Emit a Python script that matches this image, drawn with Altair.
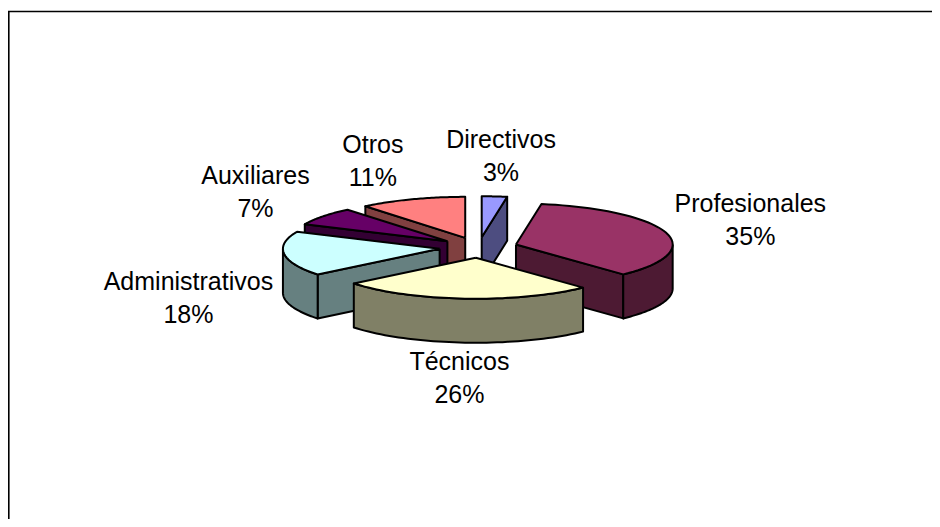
import altair as alt
import pandas as pd

# ---- data ----
categories = ["Directivos", "Profesionales", "Técnicos", "Administrativos", "Auxiliares", "Otros"]
values = [2.6, 35.4, 26.2, 17.6, 7.2, 11.0]
top_colors = ["#9999FF", "#993366", "#FFFFCC", "#CCFFFF", "#660066", "#FF8080"]
side_colors = ["#4D4D80", "#4D1A33", "#808066", "#668080", "#330033", "#804040"]
order = list(range(len(categories)))

df = pd.DataFrame({"cat": categories, "val": values, "top": top_colors,
                   "side": side_colors, "idx": order})
frame_df = pd.DataFrame({"frame": [1]})

# ---- layout / style parameters ----
W, H = 924, 511
CX, CY = 470.5, 239.5      # pie centre (plot coords)
RA, RB = 156.7, 41.0       # ellipse radii of the tilted pie
DEPTH = 44.0               # thickness of the pie
EXPL = 0.25                # explosion (fraction of radius)
N = 48                     # arc segments
FONT = "Liberation Sans"

base = (
    alt.Chart(df)
    .transform_window(cum="sum(val)", sort=[alt.SortField("idx")], frame=[None, 0])
    .transform_joinaggregate(total="sum(val)")
    .transform_calculate(t0="2*PI*(datum.cum - datum.val)/datum.total")
    .transform_calculate(t1="2*PI*datum.cum/datum.total")
    .transform_calculate(tm="(datum.t0 + datum.t1)/2")
    .transform_calculate(ox=f"{CX} + {EXPL * RA}*sin(datum.tm)")
    .transform_calculate(oy=f"{CY} - {EXPL * RB}*cos(datum.tm)")
    .transform_calculate(depth="cos(datum.tm)")
    .transform_window(rank="row_number()", sort=[alt.SortField("depth", order="descending")])
)

pie = (
    base.transform_calculate(parts="['a_w0','b_w1','c_rim','d_top']")
    .transform_flatten(["parts"], as_=["part"])
    .transform_calculate(ks=f"sequence(0, {2 * N + 3})")
    .transform_flatten(["ks"], as_=["k"])
    .transform_calculate(r0="max(datum.t0, PI/2)")
    .transform_calculate(r1="min(datum.t1, 3*PI/2)")
    .transform_filter(
        f"(datum.part=='d_top' && datum.k <= {N + 2}) || "
        f"(datum.part=='c_rim' && datum.r1 > datum.r0 && datum.k <= {2 * N + 2}) || "
        f"(datum.part=='a_w0' && sin(datum.t0) < -1e-6 && datum.k <= 4) || "
        f"(datum.part=='b_w1' && sin(datum.t1) > 1e-6 && datum.k <= 4)"
    )
    .transform_calculate(
        cen=f"datum.part=='d_top' ? (datum.k==0 || datum.k=={N + 2}) : "
            f"(datum.part=='c_rim' ? false : (datum.k==0 || datum.k>=3))"
    )
    .transform_calculate(
        tt=f"datum.part=='d_top' ? datum.t0 + (datum.t1-datum.t0)*(datum.k-1)/{N} : "
           f"(datum.part=='c_rim' ? (datum.k <= {N} ? datum.r0 + (datum.r1-datum.r0)*datum.k/{N} : "
           f"(datum.k <= {2 * N + 1} ? datum.r0 + (datum.r1-datum.r0)*({2 * N + 1}-datum.k)/{N} : datum.r0)) : "
           f"(datum.part=='a_w0' ? datum.t0 : datum.t1))"
    )
    .transform_calculate(
        zz=f"datum.part=='d_top' ? 0 : (datum.part=='c_rim' ? "
           f"((datum.k > {N} && datum.k <= {2 * N + 1}) ? {DEPTH} : 0) : "
           f"((datum.k==2 || datum.k==3) ? {DEPTH} : 0))"
    )
    .transform_calculate(px=f"datum.ox + (datum.cen ? 0 : {RA}*sin(datum.tt))")
    .transform_calculate(py=f"datum.oy + (datum.cen ? 0 : -{RB}*cos(datum.tt)) + datum.zz")
    .transform_calculate(fillc="datum.part=='d_top' ? datum.top : datum.side")
)

xs = alt.X("px:Q", scale=alt.Scale(domain=[0, W], range=[0, W], nice=False, zero=False), axis=None)
ys = alt.Y("py:Q", scale=alt.Scale(domain=[0, H], range=[0, H], nice=False, zero=False), axis=None)

pie_layers = []
for r in range(1, len(categories) + 1):
    pie_layers.append(
        pie.transform_filter(f"datum.rank == {r}")
        .mark_line(filled=True, stroke="black", strokeWidth=2, strokeJoin="round")
        .encode(x=xs, y=ys, detail="part:N", order="k:Q",
                color=alt.Color("fillc:N", scale=None))
    )

labels = (
    base.transform_calculate(qx=f"datum.ox + {RA}*sin(datum.tm)")
    .transform_calculate(qy=f"datum.oy - {RB}*cos(datum.tm)")
    .transform_calculate(hw="5.65*length(datum.cat)")
    .transform_calculate(pct="format(datum.val/datum.total, '.0%')")
    .transform_calculate(
        lx="datum.qx + (sin(datum.tm) > 0.3 ? 11 + datum.hw : "
           "(sin(datum.tm) < -0.3 ? -(11 + datum.hw) : sin(datum.tm)*80))"
    )
    .transform_calculate(ly="datum.qy - 40*cos(datum.tm) + (cos(datum.tm) < 0 ? 40 : 0)")
)

lx = alt.X("lx:Q", scale=alt.Scale(domain=[0, W], range=[0, W], nice=False, zero=False), axis=None)
ly = alt.Y("ly:Q", scale=alt.Scale(domain=[0, H], range=[0, H], nice=False, zero=False), axis=None)

name_text = labels.mark_text(font=FONT, fontSize=25, dy=-16.5, baseline="middle",
                             align="center", color="black").encode(x=lx, y=ly, text="cat:N")
pct_text = labels.mark_text(font=FONT, fontSize=25, dy=16.5, baseline="middle",
                            align="center", color="black").encode(x=lx, y=ly, text="pct:N")

frame_left = alt.Chart(frame_df).mark_rule(color="black", strokeWidth=1.6).encode(
    x=alt.value(0.8), y=alt.value(3.5), y2=alt.value(H))
frame_top = alt.Chart(frame_df).mark_rule(color="black", strokeWidth=1.6).encode(
    x=alt.value(0), x2=alt.value(W), y=alt.value(3.5))

chart = alt.layer(*pie_layers, name_text, pct_text, frame_left, frame_top).properties(
    width=W, height=H, autosize=alt.AutoSizeParams(type="none"), padding=0,
    background="white"
).configure_view(strokeWidth=0)

chart.save("out.html", embed_options={"renderer": "svg", "actions": False})
